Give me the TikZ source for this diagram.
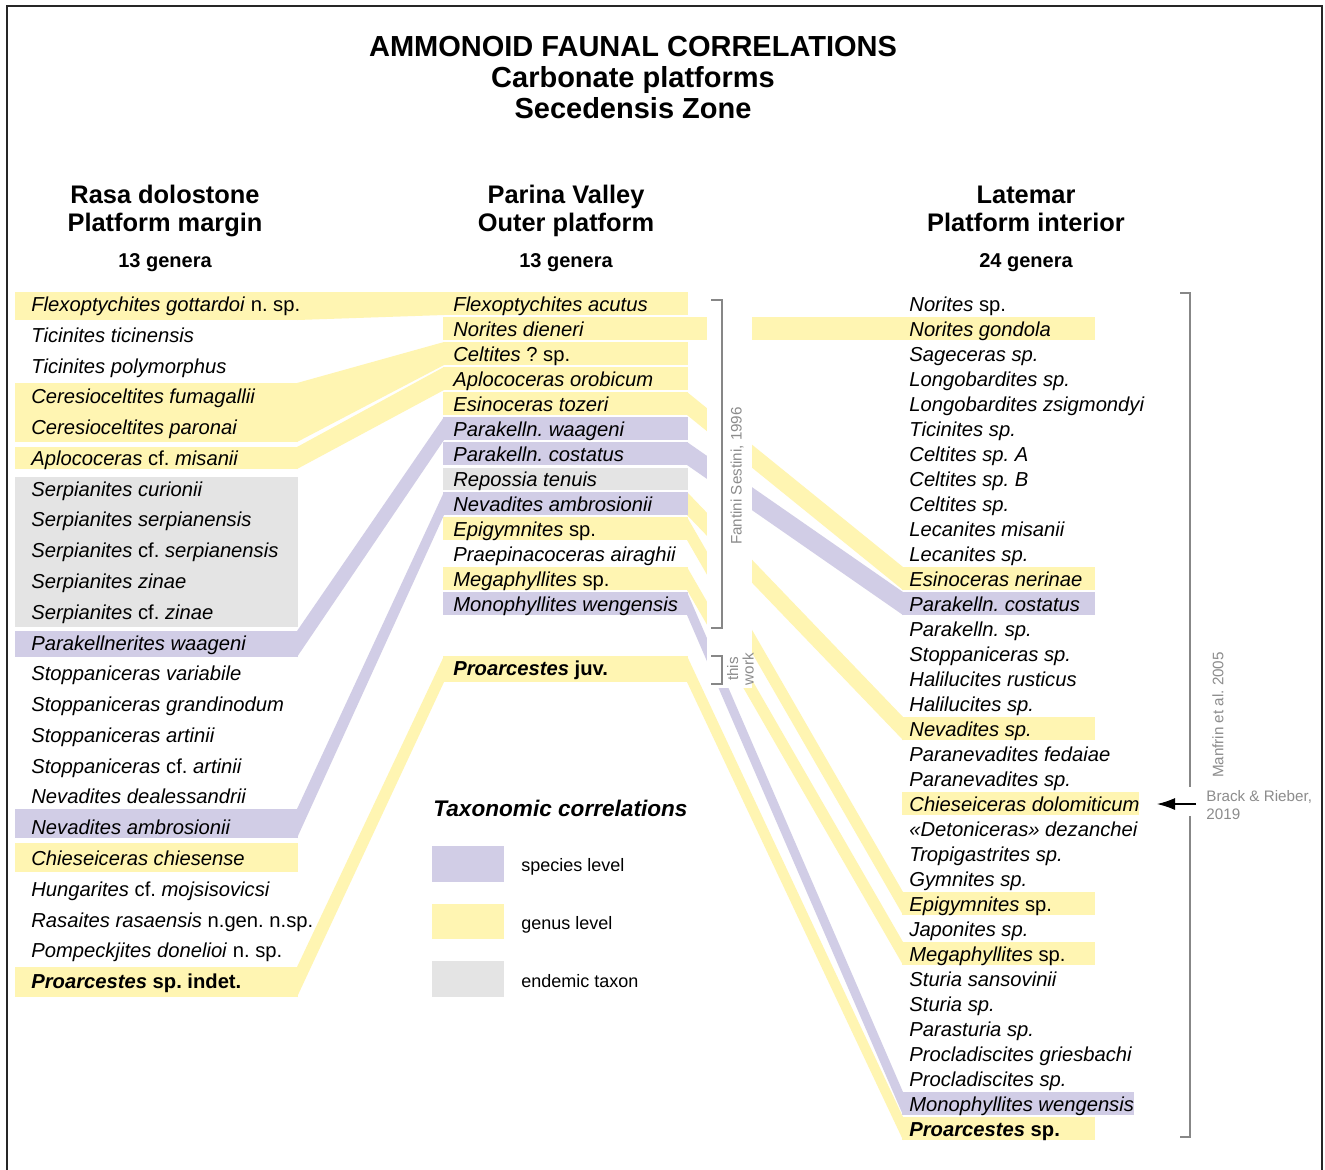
\documentclass[tikz,border=0pt]{standalone}
\usepackage{fontspec}
\setmainfont{Liberation Sans}
\usetikzlibrary{fit,arrows.meta}
\pgfdeclarelayer{back}
\pgfdeclarelayer{bg}
\pgfsetlayers{back,bg,main}
\definecolor{yel}{RGB}{255,245,178}
\definecolor{pur}{RGB}{209,205,230}
\definecolor{gry}{RGB}{228,228,228}
\definecolor{reftext}{RGB}{140,140,140}
\definecolor{brk}{RGB}{135,135,135}
\newcommand\uprm[1]{\textup{#1}}
\newcommand\Tx[4]{\node[taxon] (#1) at (#2,#3) {#4};}
\newcommand\Band[6]{\node[bandbox, fill=#1, fit={(#3,#4)(#5,#6)}] (#2) {};}
\newcommand\Strip[3]{\fill[#1] ([xshift=-0.5pt]#2.north east) -- ([xshift=0.5pt]#3.north west) -- ([xshift=0.5pt]#3.south west) -- ([xshift=-0.5pt]#2.south east) -- cycle;}
\tikzset{
  taxon/.style={anchor=base west, inner sep=0pt, font=\fontsize{10.1}{12}\selectfont\itshape},
  bandbox/.style={inner sep=0pt, outer sep=0pt, draw=none},
  titlefont/.style={anchor=base, inner sep=0pt, font=\fontsize{14.5}{17}\selectfont\bfseries},
  headfont/.style={anchor=base, inner sep=0pt, font=\fontsize{12.7}{15}\selectfont\bfseries},
  genfont/.style={anchor=base, inner sep=0pt, font=\fontsize{10}{12}\selectfont\bfseries},
  reflabel/.style={inner sep=0pt, text=reftext, font=\fontsize{7.6}{7.8}\selectfont},
  legtext/.style={anchor=base west, inner sep=0pt, font=\fontsize{9}{11}\selectfont},
  bracket/.style={draw=brk, line width=0.75pt},
}
\frenchspacing
\begin{document}
\frenchspacing
\begin{tikzpicture}[x=0.5pt,y=-0.5pt]
\useasboundingbox (0,0) rectangle (1325,1169);
\begin{pgfonlayer}{back}
\fill[white] (0,0) rectangle (1325,1169);
\end{pgfonlayer}
% frame
\draw[line width=0.8pt, black!85] (7,1175) -- (7,6) -- (1322,6) -- (1322,1175);

% ---------- titles
\node[titlefont] (t1) at (633,56.5) {AMMONOID FAUNAL CORRELATIONS};
\node[titlefont] (t2) at (633,87.5) {Carbonate platforms};
\node[titlefont] (t3) at (633,118.5) {Secedensis Zone};
\node[headfont] (h1a) at (165,203) {Rasa dolostone};
\node[headfont] (h1b) at (165,231) {Platform margin};
\node[genfont] (g1) at (165,267) {13 genera};
\node[headfont] (h2a) at (566,203) {Parina Valley};
\node[headfont] (h2b) at (566,231) {Outer platform};
\node[genfont] (g2) at (566,267) {13 genera};
\node[headfont] (h3a) at (1026,203) {Latemar};
\node[headfont] (h3b) at (1026,231) {Platform interior};
\node[genfont] (g3) at (1026,267) {24 genera};

% ---------- bands, left column
\Band{yel}{bL0}{15}{292}{298}{320}
\Band{yel}{bL3}{15}{383}{298}{442}
\Band{yel}{bL5}{15}{447}{298}{469}
\Band{gry}{bL6}{15}{477}{298}{627}
\Band{pur}{bL11}{15}{631}{298}{657}
\Band{pur}{bL17}{15}{809}{298}{838}
\Band{yel}{bL18}{15}{843}{298}{872}
\Band{yel}{bL22}{15}{967}{298}{997}
% middle column
\Band{yel}{bM0}{443}{292}{688}{315}
\Band{yel}{bM1}{443}{317}{688}{340}
\Band{yel}{bM2}{443}{342}{688}{365}
\Band{yel}{bM3}{443}{367}{688}{390}
\Band{yel}{bM4}{443}{392}{688}{415}
\Band{pur}{bM5}{443}{417}{688}{440}
\Band{pur}{bM6}{443}{442}{688}{465}
\Band{gry}{bM7}{443}{468}{688}{490}
\Band{pur}{bM8}{443}{492}{688}{515}
\Band{yel}{bM9}{443}{517}{688}{540}
\Band{yel}{bM11}{443}{567}{688}{590}
\Band{pur}{bM12}{443}{592}{688}{615}
\Band{yel}{bMj}{443}{656}{688}{682}
% right column
\Band{yel}{bR1}{902}{317}{1095}{340}
\Band{yel}{bR11}{902}{567}{1095}{590}
\Band{pur}{bR12}{902}{592}{1095}{615}
\Band{yel}{bR17}{902}{717}{1095}{740}
\Band{yel}{bR20}{902}{792}{1139}{815}
\Band{yel}{bR24}{902}{892}{1095}{915}
\Band{yel}{bR26}{902}{942}{1095}{965}
\Band{pur}{bR32}{902}{1092}{1134}{1115}
\Band{yel}{bR33}{902}{1117}{1095}{1140}

% ---------- correlation strips
\begin{pgfonlayer}{bg}
\Strip{yel}{bL0}{bM0}
\Strip{yel}{bL3}{bM2}
\Strip{yel}{bL5}{bM3}
\Strip{pur}{bL11}{bM5}
\Strip{pur}{bL17}{bM8}
\Strip{yel}{bL22}{bMj}
\Strip{yel}{bM1}{bR1}
\Strip{yel}{bM4}{bR11}
\Strip{pur}{bM6}{bR12}
\Strip{yel}{bM8}{bR17}
\Strip{yel}{bM9}{bR24}
\Strip{yel}{bM11}{bR26}
\Strip{pur}{bM12}{bR32}
\Strip{yel}{bMj}{bR33}
\end{pgfonlayer}
% white gap for the source brackets
\fill[white] (707,286) rectangle (752,688);

% ---------- left column taxa
\Tx{L0}{31}{311.5}{Flexoptychites gottardoi \uprm{n. sp.}}
\Tx{L1}{31}{342.3}{Ticinites ticinensis}
\Tx{L2}{31}{373}{Ticinites polymorphus}
\Tx{L3}{31}{403.8}{Ceresioceltites fumagallii}
\Tx{L4}{31}{434.6}{Ceresioceltites paronai}
\Tx{L5}{31}{465.4}{Aplococeras \uprm{cf.} misanii}
\Tx{L6}{31}{496.1}{Serpianites curionii}
\Tx{L7}{31}{526.9}{Serpianites serpianensis}
\Tx{L8}{31}{557.7}{Serpianites \uprm{cf.} serpianensis}
\Tx{L9}{31}{588.5}{Serpianites zinae}
\Tx{L10}{31}{619.2}{Serpianites \uprm{cf.} zinae}
\Tx{L11}{31}{650}{Parakellnerites waageni}
\Tx{L12}{31}{680.8}{Stoppaniceras variabile}
\Tx{L13}{31}{711.5}{Stoppaniceras grandinodum}
\Tx{L14}{31}{742.3}{Stoppaniceras artinii}
\Tx{L15}{31}{773.1}{Stoppaniceras \uprm{cf.} artinii}
\Tx{L16}{31}{803.9}{Nevadites dealessandrii}
\Tx{L17}{31}{834.6}{Nevadites ambrosionii}
\Tx{L18}{31}{865.4}{Chieseiceras chiesense}
\Tx{L19}{31}{896.2}{Hungarites \uprm{cf.} mojsisovicsi}
\Tx{L20}{31}{927}{Rasaites rasaensis \uprm{n.gen. n.sp.}}
\Tx{L21}{31}{957.7}{Pompeckjites donelioi \uprm{n. sp.}}
\Tx{L22}{31}{988.5}{\bfseries Proarcestes \uprm{sp. indet.}}

% ---------- middle column taxa
\foreach \t [count=\j from 0] in {Flexoptychites acutus, Norites dieneri, Celtites \uprm{? sp.}, Aplococeras orobicum, Esinoceras tozeri, Parakelln. waageni, Parakelln. costatus, Repossia tenuis, Nevadites ambrosionii, Epigymnites \uprm{sp.}, Praepinacoceras airaghii, Megaphyllites \uprm{sp.}, Monophyllites wengensis}
  \node[taxon] (M\j) at (453,{311.5+25*\j}) {\t};
\Tx{Mj}{453}{675.5}{\bfseries Proarcestes \uprm{juv.}}

% ---------- right column taxa
\foreach \t [count=\k from 0] in {Norites \uprm{sp.}, Norites gondola, Sageceras sp., Longobardites sp., Longobardites zsigmondyi, Ticinites sp., Celtites sp. A, Celtites sp. B, Celtites sp., Lecanites misanii, Lecanites sp., Esinoceras nerinae, Parakelln. costatus, Parakelln. sp., Stoppaniceras sp., Halilucites rusticus, Halilucites sp., Nevadites sp., Paranevadites fedaiae, Paranevadites sp., Chieseiceras dolomiticum, «Detoniceras» dezanchei, Tropigastrites sp., Gymnites sp., Epigymnites \uprm{sp.}, Japonites sp., Megaphyllites \uprm{sp.}, Sturia sansovinii, Sturia sp., Parasturia sp., Procladiscites griesbachi, Procladiscites sp., Monophyllites wengensis, {\bfseries Proarcestes \uprm{sp.}}}
  \node[taxon] (R\k) at (909,{311.5+25*\k}) {\t};

% ---------- source brackets
\draw[bracket] (711,300) -- (722,300) -- (722,628) -- (711,628);
\node[reflabel, rotate=90] (fan) at (737,476) {Fantini Sestini, 1996};
\draw[bracket] (711,656) -- (722,656) -- (722,684) -- (711,684);
\node[reflabel, rotate=90, align=center] (tw) at (740.5,669) {this\\work};
\draw[bracket] (1180,293) -- (1190,293) -- (1190,787);
\draw[bracket] (1190,816) -- (1190,1137) -- (1180,1137);
\node[reflabel, rotate=90] (man) at (1218,715) {Manfrin et al. 2005};
\node[reflabel, anchor=base west] (br1) at (1206,801.5) {Brack \& Rieber,};
\node[reflabel, anchor=base west] (br2) at (1206,819.5) {2019};
\coordinate (arrS) at (1196,804);
\coordinate (arrE) at (1157,804);
\draw[line width=0.6pt, -{Latex[length=9pt,width=6pt]}] (arrS) -- (arrE);

% ---------- legend
\node[anchor=base west, inner sep=0pt, font=\fontsize{11.3}{13}\selectfont\bfseries\itshape] (lgT) at (433,816.5) {Taxonomic correlations};
\node[bandbox, fill=pur, fit={(432,846)(504,882)}] (lgS) {};
\node[bandbox, fill=yel, fit={(432,904)(504,939)}] (lgG) {};
\node[bandbox, fill=gry, fit={(432,961)(504,997)}] (lgE) {};
\node[legtext] (lgSt) at (521,871.5) {species level};
\node[legtext] (lgGt) at (521,929.5) {genus level};
\node[legtext] (lgEt) at (521,987.5) {endemic taxon};
\end{tikzpicture}
\end{document}
